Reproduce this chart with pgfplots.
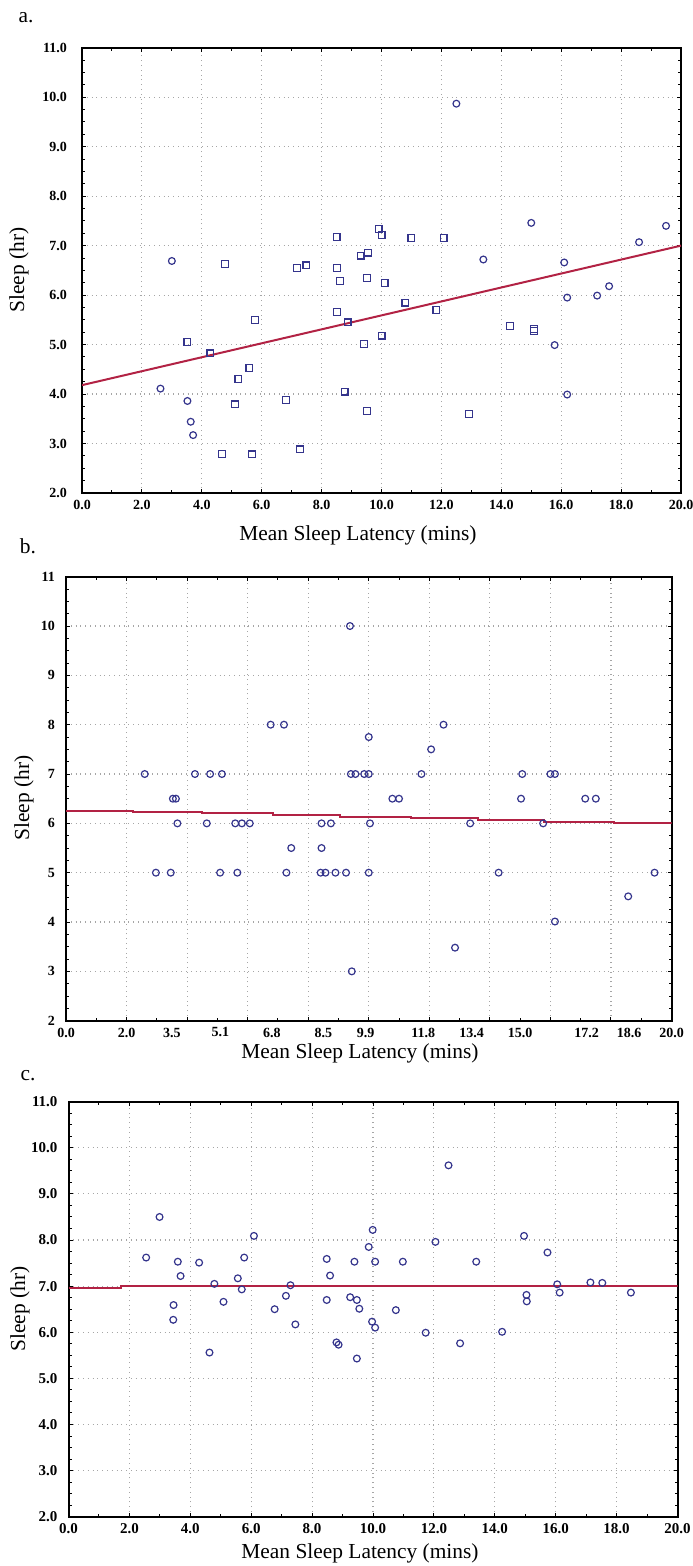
\documentclass[border=0pt]{standalone}
\usepackage{fontspec}
\setmainfont{Liberation Serif}
\usepackage{pgfplots}
\pgfplotsset{compat=1.18}

\definecolor{mk}{RGB}{52,52,140}
\definecolor{fitline}{RGB}{178,34,68}

\pgfplotsset{
  panel/.style={
    scale only axis,
    xmin=0, xmax=20, ymin=2, ymax=11,
    axis line style={line width=1pt},
    tick align=inside,
    xtick={0,2,...,20},
    ytick={2,3,...,11},
    minor x tick num=1,
    minor y tick num=3,
    major tick length=2pt,
    minor tick length=1.5pt,
    tick style={black, line width=0.5pt},
    grid=major,
    major grid style={gray!70, dotted, line width=0.55pt},
    ticklabel style={font=\fontsize{7}{8}\selectfont\bfseries},
    /pgf/number format/assume math mode=true,
  },
  pts/.style={only marks, mark size=1.7pt, mark options={draw=mk, line width=0.6pt}},
}

\begin{document}
\begin{tikzpicture}
\useasboundingbox (0,0) rectangle (346pt,783pt);

% ---------- a ----------
\begin{axis}[panel, at={(41pt,536.5pt)}, anchor=south west,
    width=299.5pt, height=222.6pt,
    xticklabel={\pgfmathprintnumber[fixed,fixed zerofill,precision=1]{\tick}},
    yticklabel={\pgfmathprintnumber[fixed,fixed zerofill,precision=1]{\tick}},
    yticklabel style={xshift=-4pt}]
\addplot[pts, mark=square] coordinates {
  (9.9,7.34) (10.0,7.21) (8.5,7.18) (11.0,7.15) (12.07,7.15) (9.3,6.80)
  (9.55,6.86) (4.78,6.63) (7.18,6.55) (7.49,6.60) (8.51,6.55) (8.62,6.28)
  (9.51,6.34) (10.1,6.25) (10.8,5.85) (11.83,5.70) (8.51,5.66) (8.87,5.45)
  (5.78,5.50) (3.52,5.05) (9.41,5.01) (10.0,5.18) (14.3,5.38) (15.1,5.32)
  (15.1,5.27) (4.29,4.82) (5.59,4.53) (5.22,4.31) (8.77,4.05) (5.10,3.79)
  (6.81,3.88) (9.52,3.66) (12.93,3.60) (4.67,2.79) (5.68,2.78) (7.28,2.88)
};
\addplot[pts, mark=o] coordinates {
  (12.5,9.87) (15.0,7.46) (19.5,7.40) (18.6,7.07) (13.4,6.72) (16.1,6.66)
  (3.0,6.69) (16.2,5.95) (17.2,5.99) (17.6,6.18) (15.78,4.99) (2.62,4.11)
  (16.2,3.99) (3.52,3.86) (3.63,3.44) (3.71,3.17)
};
\addplot[fitline, line width=1pt] coordinates {(0,4.18) (20,7.0)};
\end{axis}

% ---------- b ----------
\begin{axis}[panel, at={(33pt,272.65pt)}, anchor=south west,
    width=302.75pt, height=222pt,
    xticklabels={},
    extra x ticks={0,2,3.5,5.1,6.8,8.5,9.9,11.8,13.4,15,17.2,18.6,20},
    extra x tick labels={0.0,2.0,3.5,5.1,6.8,8.5,9.9,11.8,13.4,15.0,17.2,18.6,20.0},
    extra x tick style={grid=none, major tick length=0pt},
    yticklabel style={xshift=-2pt}]
\addplot[pts, mark=o] coordinates {
  (9.38,10.0) (6.76,8) (7.2,8) (12.47,8) (10.0,7.75) (12.06,7.5)
  (2.6,7) (4.26,7) (4.76,7) (5.15,7) (9.41,7) (9.56,7) (9.85,7) (10.0,7)
  (11.74,7) (15.07,7) (16.0,7) (16.15,7)
  (3.53,6.5) (3.63,6.5) (10.78,6.5) (11.0,6.5) (15.03,6.5) (17.15,6.5) (17.5,6.5)
  (3.68,6) (4.65,6) (5.59,6) (5.81,6) (6.07,6) (8.44,6) (8.75,6) (10.04,6)
  (13.35,6) (15.76,6)
  (7.44,5.5) (8.44,5.5)
  (2.97,5) (3.46,5) (5.09,5) (5.66,5) (7.28,5) (8.41,5) (8.57,5) (8.9,5)
  (9.25,5) (10.0,5) (14.29,5) (19.44,5)
  (18.57,4.52) (16.15,4.01) (12.85,3.48) (9.44,3.0)
};
\addplot[fitline, line width=1pt, const plot] coordinates {
  (0,6.257) (2.2,6.23) (4.5,6.20) (6.85,6.17) (9.05,6.135) (11.4,6.10)
  (13.6,6.07) (15.8,6.035) (18.1,6.0) (20,6.0)
};
\end{axis}

% ---------- c ----------
\begin{axis}[panel, at={(34.25pt,24.65pt)}, anchor=south west,
    width=304.5pt, height=207.5pt,
    ticklabel style={font=\fontsize{7.5}{8}\selectfont\bfseries},
    xticklabel={\pgfmathprintnumber[fixed,fixed zerofill,precision=1]{\tick}},
    yticklabel={\pgfmathprintnumber[fixed,fixed zerofill,precision=1]{\tick}},
    yticklabel style={xshift=-2pt}]
\addplot[pts, mark=o] coordinates {
  (12.48,9.62) (2.99,8.5) (9.99,8.22) (6.09,8.09) (14.96,8.09) (12.05,7.96)
  (9.86,7.85) (15.73,7.73) (2.55,7.62) (5.77,7.62) (8.48,7.59) (3.59,7.53)
  (4.29,7.51) (9.39,7.53) (10.07,7.53) (10.98,7.53) (13.39,7.53) (3.68,7.22)
  (8.59,7.23) (5.56,7.17) (4.79,7.05) (7.29,7.02) (17.14,7.08) (17.53,7.07)
  (16.05,7.04) (18.47,6.86) (16.13,6.86) (5.69,6.93) (15.04,6.81) (15.05,6.67)
  (7.14,6.79) (9.25,6.76) (9.47,6.70) (8.48,6.70) (5.09,6.66) (3.45,6.59)
  (9.55,6.51) (6.77,6.5) (10.75,6.48) (3.44,6.27) (7.45,6.17) (9.97,6.23)
  (10.07,6.10) (8.8,5.78) (8.87,5.73) (11.73,5.99) (12.86,5.76) (14.24,6.01)
  (4.63,5.56) (9.47,5.43)
};
\addplot[fitline, line width=1pt, const plot] coordinates {
  (0,6.97) (1.72,7.0) (20,7.0)
};
\end{axis}

% labels
\begin{scope}[font=\fontsize{10.7}{12}\selectfont]
\node at (13pt,774pt) {a.};
\node at (14pt,510pt) {b.};
\node at (14pt,245pt) {c.};
\node at (179pt,515.5pt) {Mean Sleep Latency (mins)};
\node at (180pt,256.5pt) {Mean Sleep Latency (mins)};
\node at (180pt,6.5pt) {Mean Sleep Latency (mins)};
\node[rotate=90] at (9.5pt,648pt) {Sleep (hr)};
\node[rotate=90] at (12pt,384pt) {Sleep (hr)};
\node[rotate=90] at (10pt,128.5pt) {Sleep (hr)};
\end{scope}
\end{tikzpicture}
\end{document}
